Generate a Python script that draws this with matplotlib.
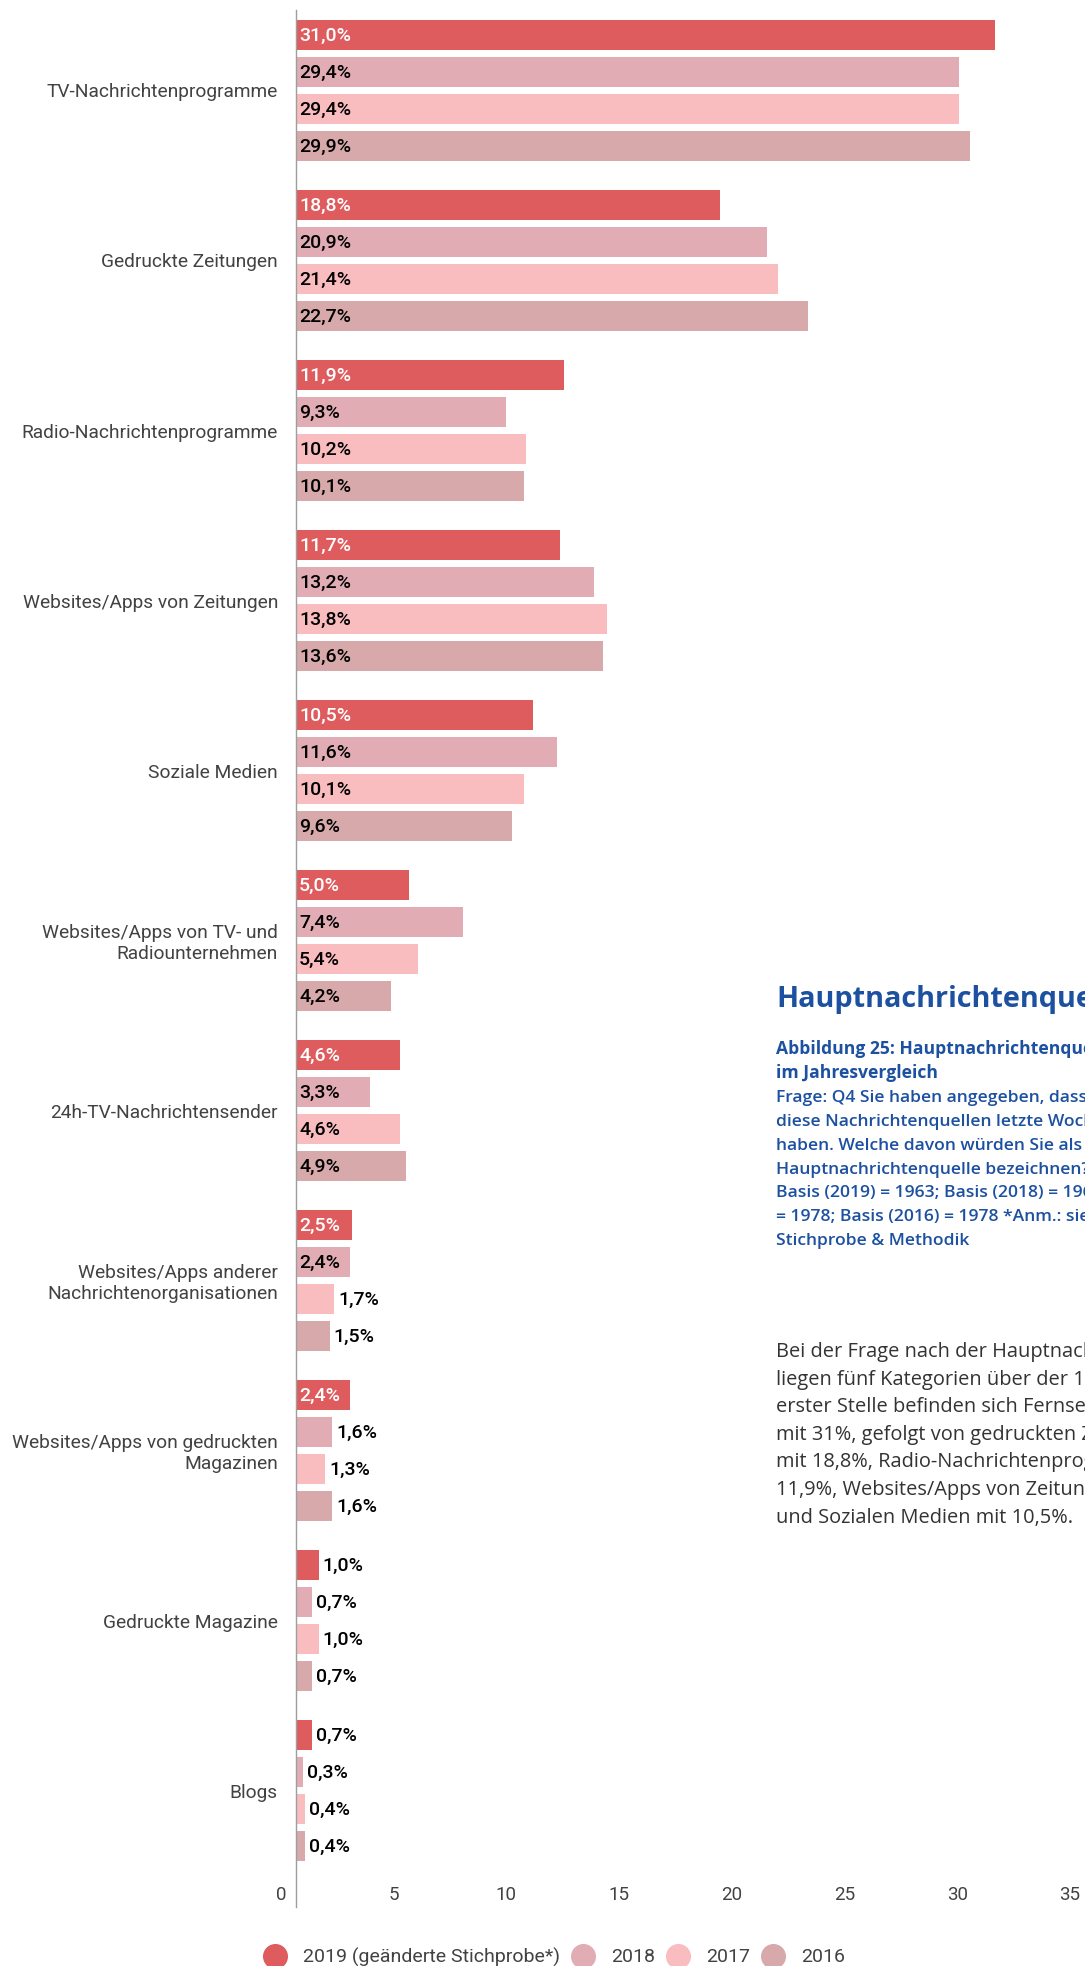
import numpy as np
import matplotlib
matplotlib.use("Agg")
import matplotlib.pyplot as plt
import matplotlib.transforms as mtransforms
from matplotlib.lines import Line2D

plt.rcParams["font.family"] = ["Roboto", "DejaVu Sans"]

categories = [
    "TV-Nachrichtenprogramme",
    "Gedruckte Zeitungen",
    "Radio-Nachrichtenprogramme",
    "Websites/Apps von Zeitungen",
    "Soziale Medien",
    "Websites/Apps von TV- und\nRadiounternehmen",
    "24h-TV-Nachrichtensender",
    "Websites/Apps anderer\nNachrichtenorganisationen",
    "Websites/Apps von gedruckten\nMagazinen",
    "Gedruckte Magazine",
    "Blogs",
]
series_names = ["2019 (geänderte Stichprobe*)", "2018", "2017", "2016"]
vals_2019 = [31.0, 18.8, 11.9, 11.7, 10.5, 5.0, 4.6, 2.5, 2.4, 1.0, 0.7]
vals_2018 = [29.4, 20.9, 9.3, 13.2, 11.6, 7.4, 3.3, 2.4, 1.6, 0.7, 0.3]
vals_2017 = [29.4, 21.4, 10.2, 13.8, 10.1, 5.4, 4.6, 1.7, 1.3, 1.0, 0.4]
vals_2016 = [29.9, 22.7, 10.1, 13.6, 9.6, 4.2, 4.9, 1.5, 1.6, 0.7, 0.4]
x_ticks = [0, 5, 10, 15, 20, 25, 30, 35]

title = "Hauptnachrichtenquellen"
caption_bold = [
    "Abbildung 25: Hauptnachrichtenquellen",
    "im Jahresvergleich",
]
caption_lines = [
    "Frage: Q4 Sie haben angegeben, dass Sie",
    "diese Nachrichtenquellen letzte Woche genutzt",
    "haben. Welche davon würden Sie als Ihre",
    "Hauptnachrichtenquelle bezeichnen?",
    "Basis (2019) = 1963; Basis (2018) = 1969; Basis (2017)",
    "= 1978; Basis (2016) = 1978 *Anm.: siehe",
    "Stichprobe & Methodik",
]
body_lines = [
    "Bei der Frage nach der Hauptnachrichtenquelle",
    "liegen fünf Kategorien über der 10%-Marke. An",
    "erster Stelle befinden sich Fernsehnachrichten",
    "mit 31%, gefolgt von gedruckten Zeitungen",
    "mit 18,8%, Radio-Nachrichtenprogrammen mit",
    "11,9%, Websites/Apps von Zeitungen mit 11,7%",
    "und Sozialen Medien mit 10,5%.",
]

colors = ["#de5c5e", "#e2acb5", "#f9bcbf", "#d7a9aa"]
label_colors = ["white", "black", "black", "black"]

W, H = 1085, 1966
fig = plt.figure(figsize=(W / 100, H / 100), dpi=100)
ax_left, ax_top, ax_bottom = 296, 10, 1907
ax = fig.add_axes([ax_left / W, 1 - ax_bottom / H, (W - ax_left) / W, (ax_bottom - ax_top) / H])

px_per_unit = 22.85
step = 37 / 170
bar_h = 30 / 170
all_vals = [vals_2019, vals_2018, vals_2017, vals_2016]
group_pos = np.arange(len(categories))

for j, vals in enumerate(all_vals):
    y = group_pos + j * step
    ax.barh(y, vals, height=bar_h, color=colors[j], left=0)
    for yy, v in zip(y, vals):
        txt = f"{v:.1f}%".replace(".", ",")
        if v >= 2.0:
            ax.annotate(txt, (0, yy), xytext=(3, -1), textcoords="offset pixels",
                        ha="left", va="center", fontsize=14, fontweight="medium",
                        color=label_colors[j])
        else:
            ax.annotate(txt, (v, yy), xytext=(4, -1), textcoords="offset pixels",
                        ha="left", va="center", fontsize=14, fontweight="medium",
                        color="black")

ax.set_xlim(0, (W - ax_left) / px_per_unit)
ax.set_ylim((ax_bottom - 35) / 170, -(35 - ax_top) / 170)

ax.set_yticks(group_pos + 1.5 * step)
ax.set_yticklabels(categories, fontsize=13.8, color="#424242", linespacing=1.15)
ax.tick_params(axis="y", length=0, pad=13)

ax.set_xticks(x_ticks)
ax.set_xticklabels([str(t) for t in x_ticks], fontsize=13.5, color="#424242")
ax.tick_params(axis="x", length=0, pad=0)
offset = mtransforms.ScaledTranslation(-15 / 100, 21 / 100, fig.dpi_scale_trans)
for lbl in ax.get_xticklabels():
    lbl.set_transform(lbl.get_transform() + offset)

for s in ["top", "right", "bottom"]:
    ax.spines[s].set_visible(False)
ax.spines["left"].set_color("#9e9e9e")
ax.spines["left"].set_linewidth(1.0)

# legend
handles = [Line2D([], [], marker="o", linestyle="", markersize=17, color=c) for c in colors]
fig.legend(handles, series_names, loc="center", bbox_to_anchor=(555 / W, 1 - 1957 / H),
           ncol=4, frameon=False, fontsize=14, labelcolor="#424242",
           handlelength=1.0, handletextpad=0.93, columnspacing=0.7, borderpad=0)

# text block on the right
blue = "#1c50a0"
tx = 776 / W
side_font = ["Open Sans", "DejaVu Sans"]
fig.text(tx, 1 - 1007 / H, title, fontsize=20.8, fontweight="bold", color=blue,
         family=side_font, va="baseline")
for k, line in enumerate(caption_bold + caption_lines):
    fig.text(tx, 1 - (1054 + 23.9 * k) / H, line, fontsize=12.6,
             fontweight="bold" if k < 2 else "semibold", color=blue,
             family=side_font, va="baseline")
for k, line in enumerate(body_lines):
    fig.text(tx, 1 - (1357 + 27.6 * k) / H, line, fontsize=14.4, color="#333333",
             family=side_font, va="baseline")

fig.savefig("out.png", dpi=100)
